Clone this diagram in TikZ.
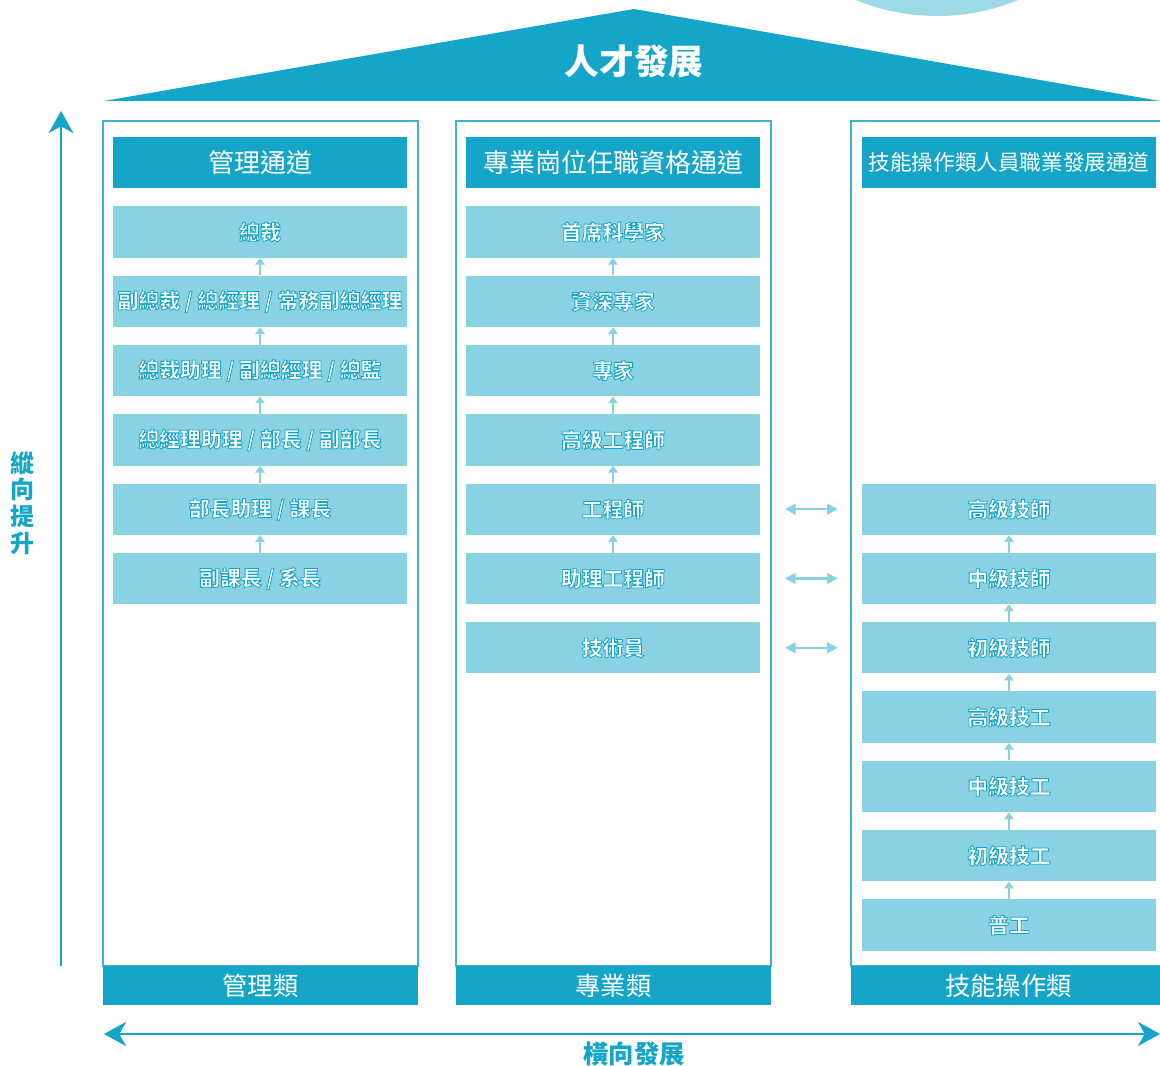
\documentclass[tikz,border=0pt]{standalone}
\usepackage{fontspec}
\setmainfont{Noto Sans CJK TC}
\usetikzlibrary{arrows.meta}
\definecolor{dk}{HTML}{14A5C8}
\definecolor{lt}{HTML}{88D2E3}
\definecolor{cir}{HTML}{9ED9E7}
\definecolor{fr}{HTML}{3DB3D2}
\newcommand\outl[1]{\raisebox{-1.2pt}{\special{pdf:code 2 Tr 0.6 w 1 g 0.078 0.647 0.784 RG}#1\special{pdf:code 0 Tr 0 G}}}
\tikzset{
  itembox/.style={rectangle, fill=lt, minimum width=220.5pt, minimum height=38.5pt, inner sep=0pt, text=white, font=\fontsize{15.6}{18}\bfseries},
  headbox/.style={rectangle, fill=dk, minimum width=220.5pt, minimum height=38.5pt, inner sep=0pt, text=white, font=\fontsize{19.5}{22}\selectfont},
  footbox/.style={rectangle, fill=dk, minimum width=236.25pt, minimum height=29.5pt, inner sep=0pt, text=white, font=\fontsize{19}{22}\selectfont},
  framebox/.style={draw=fr, line width=1.8pt},
  uparr/.style={draw=lt, line width=1.5pt, -{Triangle[length=5pt,width=7pt]}},
  dblarr/.style={draw=lt, line width=1.8pt, {Triangle[length=8pt,width=8pt]}-{Triangle[length=8pt,width=8pt]}, shorten <=18.5pt, shorten >=18pt},
  bigarr/.style={draw=dk, line width=2.2pt},
}
\begin{document}
\begin{tikzpicture}[x=0.75pt,y=-0.75pt]
\useasboundingbox (0,0) rectangle (1160,1066);
\clip (0,0) rectangle (1160,1066);
% decorative circle
\fill[cir] (937,-197) circle (213);
% roof
\fill[dk] (104,101) -- (634,9) -- (1160,101) -- cycle;
\node[text=white, font=\fontsize{26}{30}\bfseries] (title) at (634,61) {人才發展};
% frames
\draw[framebox] (103,121) rectangle (418,966);
\draw[framebox] (456,121) rectangle (771,966);
\draw[framebox] (851,121) rectangle (1175,966);
% headers
\node[headbox] (h1) at (260,162.5) {管理通道};
\node[headbox] (h2) at (613,162.5) {專業崗位任職資格通道};
\node[headbox, font=\fontsize{16.2}{20}\selectfont] (h3) at (1009,162.5) {技能操作類人員職業發展通道};
% footers
\node[footbox] (f1) at (260.5,985.5) {管理類};
\node[footbox] (f2) at (613.5,985.5) {專業類};
\node[footbox] (f3) at (1008.5,985.5) {技能操作類};
% column 1
\node[itembox] (a0) at (260,232) {\outl{總裁}};
\node[itembox] (a1) at (260,301.3) {\outl{副總裁 / 總經理 / 常務副總經理}};
\node[itembox] (a2) at (260,370.6) {\outl{總裁助理 / 副總經理 / 總監}};
\node[itembox] (a3) at (260,439.9) {\outl{總經理助理 / 部長 / 副部長}};
\node[itembox] (a4) at (260,509.2) {\outl{部長助理 / 課長}};
\node[itembox] (a5) at (260,578.5) {\outl{副課長 / 系長}};
% column 2
\node[itembox] (b0) at (613,232) {\outl{首席科學家}};
\node[itembox] (b1) at (613,301.3) {\outl{資深專家}};
\node[itembox] (b2) at (613,370.6) {\outl{專家}};
\node[itembox] (b3) at (613,439.9) {\outl{高級工程師}};
\node[itembox] (b4) at (613,509.2) {\outl{工程師}};
\node[itembox] (b5) at (613,578.5) {\outl{助理工程師}};
\node[itembox] (b6) at (613,647.8) {\outl{技術員}};
% column 3
\node[itembox] (c4) at (1009,509.2) {\outl{高級技師}};
\node[itembox] (c5) at (1009,578.5) {\outl{中級技師}};
\node[itembox] (c6) at (1009,647.8) {\outl{初級技師}};
\node[itembox] (c7) at (1009,717.1) {\outl{高級技工}};
\node[itembox] (c8) at (1009,786.4) {\outl{中級技工}};
\node[itembox] (c9) at (1009,855.7) {\outl{初級技工}};
\node[itembox] (c10) at (1009,925) {\outl{普工}};
% up arrows
\foreach \u/\l in {a0/a1,a1/a2,a2/a3,a3/a4,a4/a5,b0/b1,b1/b2,b2/b3,b3/b4,b4/b5,c4/c5,c5/c6,c6/c7,c7/c8,c8/c9,c9/c10}
  \draw[uparr] (\l.north) -- (\u.south);
% horizontal double arrows
\draw[dblarr] (b4.east) -- (c4.west);
\draw[dblarr] (b5.east) -- (c5.west);
\draw[dblarr] (b6.east) -- (c6.west);
% vertical main arrow
\coordinate (vs) at (61,966);
\coordinate (ve) at (61,111);
\draw[bigarr, -{Stealth[length=16.5pt,width=18.5pt,inset=5pt]}] (vs) -- (ve);
\node[text=dk, font=\fontsize{18}{20}\bfseries, align=center, inner sep=0pt] (vlab) at (22,503) {縱\\向\\提\\升};
% horizontal main arrow
\coordinate (hs) at (104,1034);
\coordinate (he) at (1160,1034);
\draw[bigarr, {Stealth[length=16.5pt,width=18pt,inset=5pt]}-{Stealth[length=16.5pt,width=18pt,inset=5pt]}] (hs) -- (he);
\node[text=dk, font=\fontsize{19}{22}\bfseries] (hlab) at (634,1054) {橫向發展};
\end{tikzpicture}
\end{document}
